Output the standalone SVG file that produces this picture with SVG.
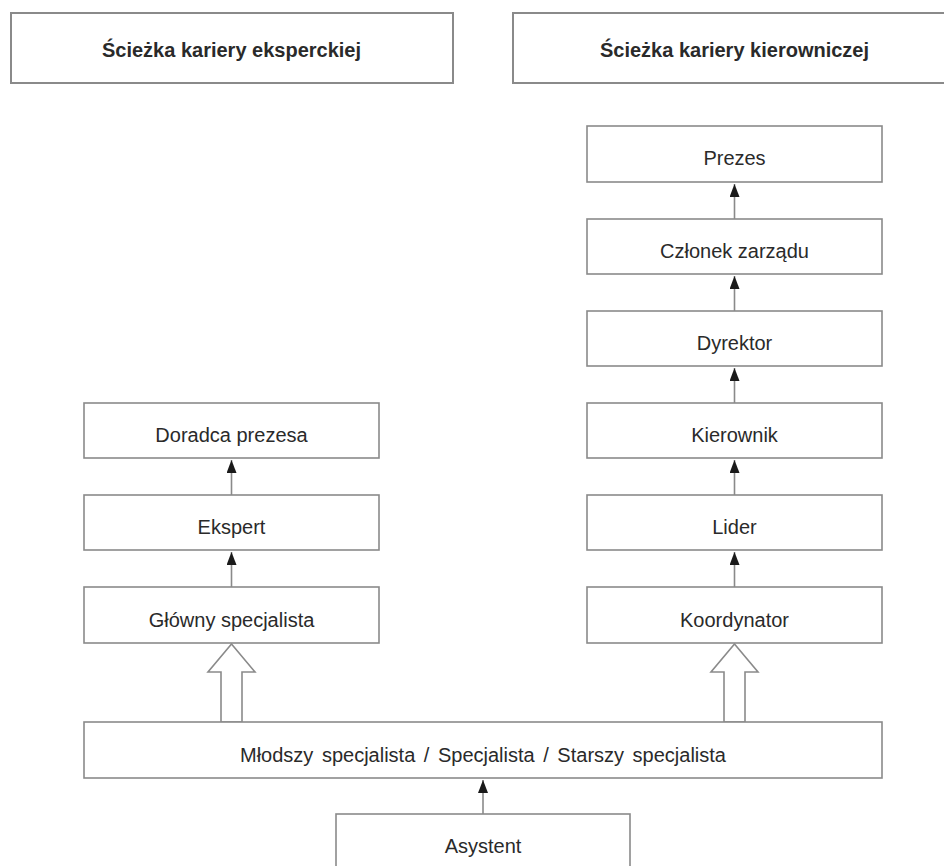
<svg xmlns="http://www.w3.org/2000/svg" width="944" height="866" viewBox="0 0 944 866">
<style>
.box{fill:#fff;stroke:#8a8a8a;stroke-width:1.6}
.hdr{fill:#fff;stroke:#8a8a8a;stroke-width:2}
.t{font-family:"Liberation Sans",Arial,sans-serif;font-size:20px;fill:#2a2a2a;text-anchor:middle}
.h{font-family:"Liberation Sans",Arial,sans-serif;font-size:20px;font-weight:bold;fill:#2a2a2a;text-anchor:middle}
.ln{stroke:#8a8a8a;stroke-width:1.6;fill:none}
.hol{fill:#fff;stroke:#8a8a8a;stroke-width:1.6;stroke-linejoin:miter}
</style>
<defs>
<marker id="ah" viewBox="0 0 13 10" refX="13" refY="5" markerWidth="13" markerHeight="10" markerUnits="userSpaceOnUse" orient="auto">
<path d="M0,0 L13,5 L0,10 Z" fill="#1a1a1a"/>
</marker>
</defs>
<rect width="944" height="866" fill="#fff"/>
<g id="connectors">
<line class="ln" x1="734.5" y1="219" x2="734.5" y2="184" marker-end="url(#ah)"/>
<line class="ln" x1="734.5" y1="311" x2="734.5" y2="276" marker-end="url(#ah)"/>
<line class="ln" x1="734.5" y1="403" x2="734.5" y2="368" marker-end="url(#ah)"/>
<line class="ln" x1="734.5" y1="495" x2="734.5" y2="460" marker-end="url(#ah)"/>
<line class="ln" x1="734.5" y1="587" x2="734.5" y2="552" marker-end="url(#ah)"/>
<line class="ln" x1="231.5" y1="495" x2="231.5" y2="460" marker-end="url(#ah)"/>
<line class="ln" x1="231.5" y1="587" x2="231.5" y2="552" marker-end="url(#ah)"/>
<line class="ln" x1="483" y1="814" x2="483" y2="780" marker-end="url(#ah)"/>
<polygon class="hol" points="231.5,644 255,672 242,672 242,722 221,722 221,672 208,672"/>
<polygon class="hol" points="734.5,644 758,672 745,672 745,722 724,722 724,672 711,672"/>
</g>
<g id="hdr-ekspert"><rect class="hdr" x="11" y="13" width="442" height="70"/><text class="h" x="231.5" y="57">Ścieżka kariery eksperckiej</text></g>
<g id="hdr-kier"><rect class="hdr" x="513" y="13" width="440" height="70"/><text class="h" x="734.5" y="57">Ścieżka kariery kierowniczej</text></g>
<g id="prezes"><rect class="box" x="587" y="126" width="295" height="56"/><text class="t" x="734.5" y="165">Prezes</text></g>
<g id="czlonek"><rect class="box" x="587" y="219" width="295" height="55"/><text class="t" x="734.5" y="258">Członek zarządu</text></g>
<g id="dyrektor"><rect class="box" x="587" y="311" width="295" height="55"/><text class="t" x="734.5" y="350">Dyrektor</text></g>
<g id="kierownik"><rect class="box" x="587" y="403" width="295" height="55"/><text class="t" x="734.5" y="442">Kierownik</text></g>
<g id="lider"><rect class="box" x="587" y="495" width="295" height="55"/><text class="t" x="734.5" y="534">Lider</text></g>
<g id="koordynator"><rect class="box" x="587" y="587" width="295" height="56"/><text class="t" x="734.5" y="627">Koordynator</text></g>
<g id="doradca"><rect class="box" x="84" y="403" width="295" height="55"/><text class="t" x="231.5" y="442">Doradca prezesa</text></g>
<g id="ekspert"><rect class="box" x="84" y="495" width="295" height="55"/><text class="t" x="231.5" y="534">Ekspert</text></g>
<g id="glowny"><rect class="box" x="84" y="587" width="295" height="56"/><text class="t" x="231.5" y="627">Główny specjalista</text></g>
<g id="specjalista"><rect class="box" x="84" y="722" width="798" height="56"/><text class="t" x="483" y="762" word-spacing="3">Młodszy specjalista / Specjalista / Starszy specjalista</text></g>
<g id="asystent"><rect class="box" x="336" y="814" width="294" height="60"/><text class="t" x="483" y="853">Asystent</text></g>
</svg>
